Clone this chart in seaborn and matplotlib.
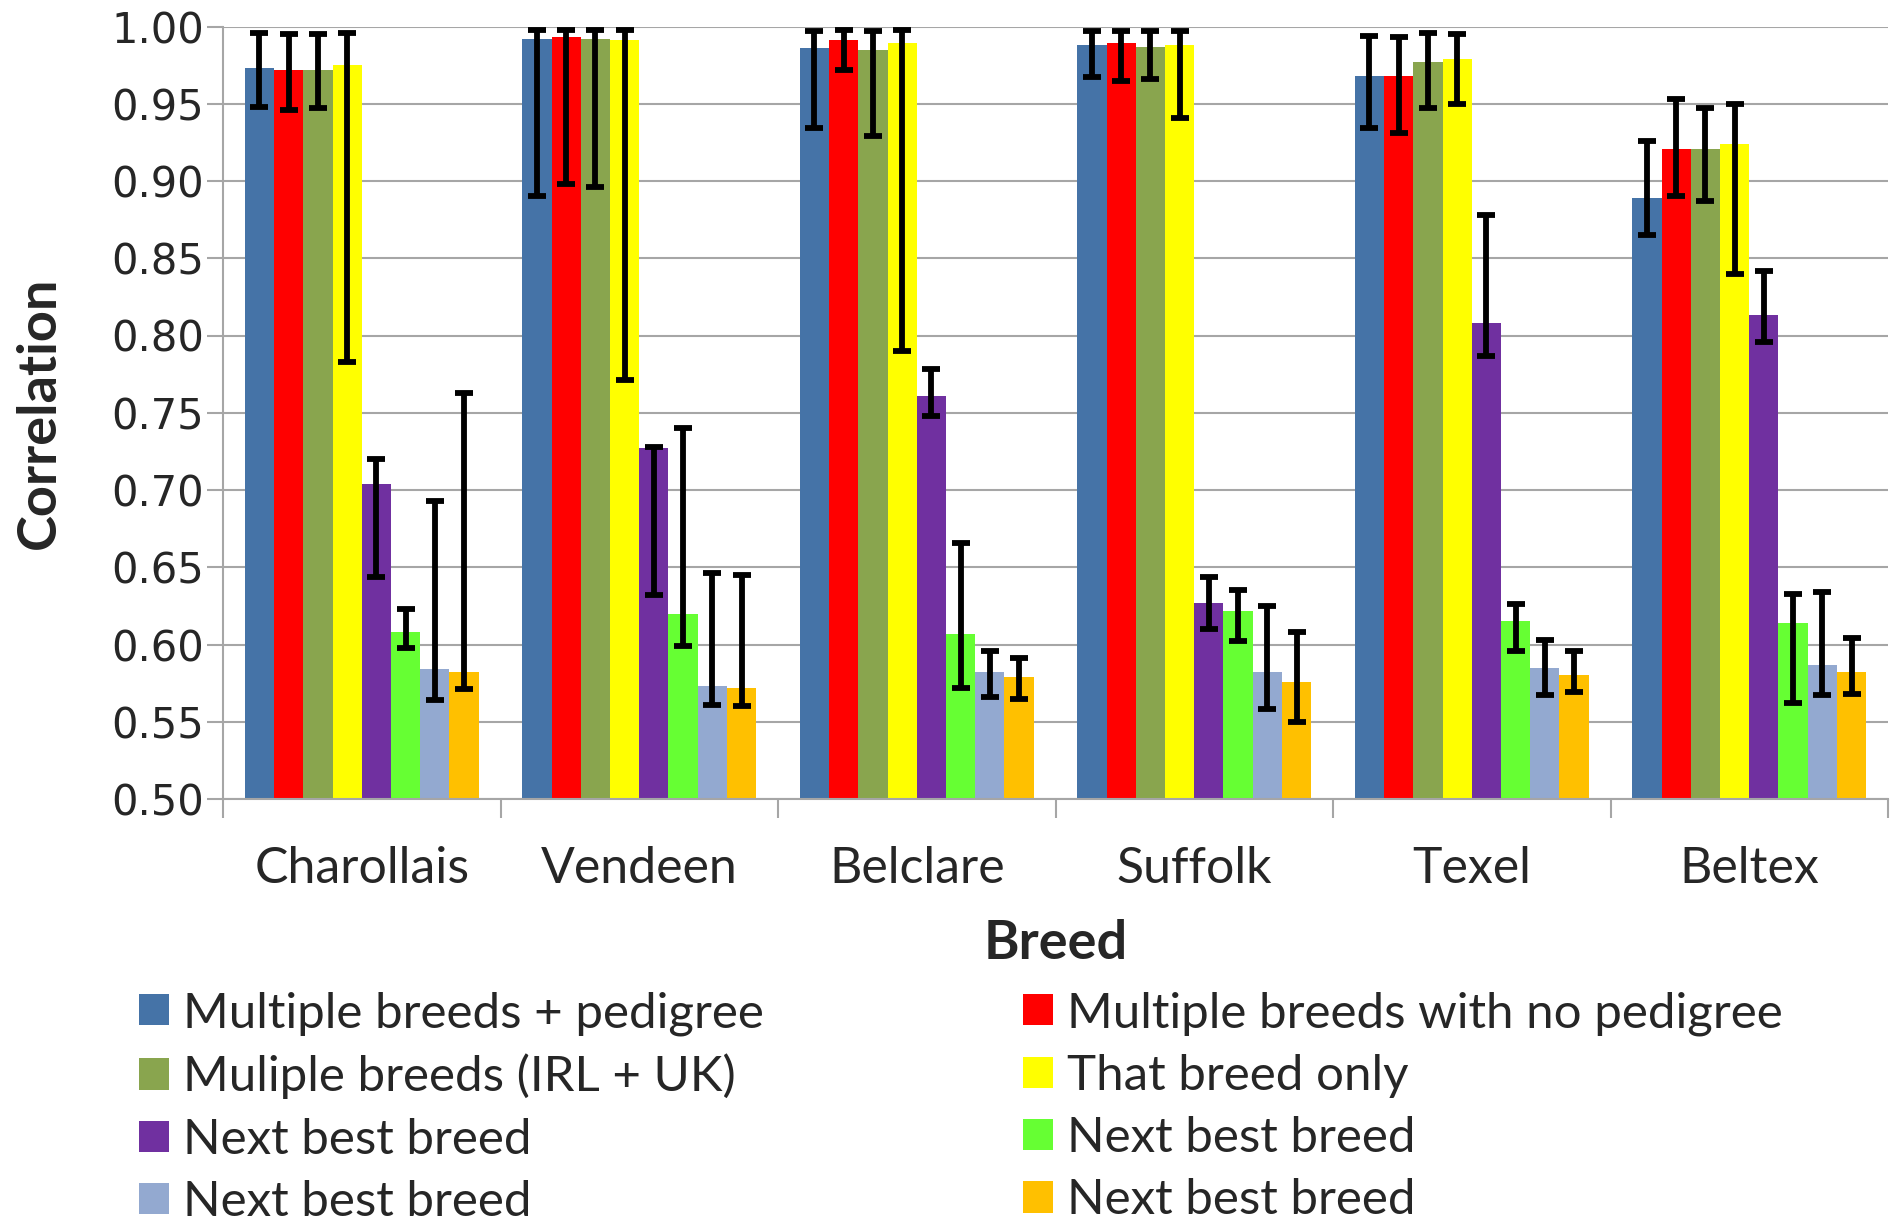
import numpy as np
import pandas as pd
import matplotlib
matplotlib.use("Agg")
import matplotlib.pyplot as plt
from matplotlib.patches import Patch
from matplotlib.ticker import FixedLocator
import seaborn as sns

# ---------------- data ----------------
breeds = ["Charollais", "Vendeen", "Belclare", "Suffolk", "Texel", "Beltex"]
series_keys = ["mb_ped", "mb_noped", "mb_irluk", "that_breed", "nb1", "nb2", "nb3", "nb4"]
legend_labels = ["Multiple breeds + pedigree", "Multiple breeds with no pedigree",
                 "Muliple breeds (IRL + UK)", "That breed only",
                 "Next best breed", "Next best breed",
                 "Next best breed", "Next best breed"]

mb_ped      = [0.973, 0.992, 0.986, 0.988, 0.968, 0.889]
mb_ped_lo   = [0.948, 0.890, 0.934, 0.967, 0.934, 0.865]
mb_ped_hi   = [0.996, 0.998, 0.997, 0.997, 0.994, 0.926]

mb_noped    = [0.972, 0.993, 0.991, 0.989, 0.968, 0.921]
mb_noped_lo = [0.946, 0.898, 0.972, 0.965, 0.931, 0.890]
mb_noped_hi = [0.995, 0.998, 0.998, 0.997, 0.993, 0.953]

mb_irluk    = [0.972, 0.992, 0.985, 0.987, 0.977, 0.921]
mb_irluk_lo = [0.947, 0.896, 0.929, 0.966, 0.947, 0.887]
mb_irluk_hi = [0.995, 0.998, 0.997, 0.997, 0.996, 0.947]

that_breed    = [0.975, 0.991, 0.989, 0.988, 0.979, 0.924]
that_breed_lo = [0.783, 0.771, 0.790, 0.941, 0.950, 0.840]
that_breed_hi = [0.996, 0.998, 0.998, 0.997, 0.995, 0.950]

nb1    = [0.704, 0.727, 0.761, 0.627, 0.808, 0.813]
nb1_lo = [0.644, 0.632, 0.748, 0.610, 0.787, 0.796]
nb1_hi = [0.720, 0.728, 0.778, 0.644, 0.878, 0.842]

nb2    = [0.608, 0.620, 0.607, 0.622, 0.615, 0.614]
nb2_lo = [0.598, 0.599, 0.572, 0.602, 0.596, 0.562]
nb2_hi = [0.623, 0.740, 0.666, 0.635, 0.626, 0.633]

nb3    = [0.584, 0.573, 0.582, 0.582, 0.585, 0.587]
nb3_lo = [0.564, 0.561, 0.566, 0.558, 0.567, 0.567]
nb3_hi = [0.693, 0.646, 0.596, 0.625, 0.603, 0.634]

nb4    = [0.582, 0.572, 0.579, 0.576, 0.580, 0.582]
nb4_lo = [0.571, 0.560, 0.565, 0.550, 0.569, 0.568]
nb4_hi = [0.763, 0.645, 0.591, 0.608, 0.596, 0.604]

values = [mb_ped, mb_noped, mb_irluk, that_breed, nb1, nb2, nb3, nb4]
lows = [mb_ped_lo, mb_noped_lo, mb_irluk_lo, that_breed_lo, nb1_lo, nb2_lo, nb3_lo, nb4_lo]
highs = [mb_ped_hi, mb_noped_hi, mb_irluk_hi, that_breed_hi, nb1_hi, nb2_hi, nb3_hi, nb4_hi]

colors = ["#4573A7", "#FF0000", "#89A54E", "#FFFF00",
          "#7030A0", "#66FF33", "#93A9D0", "#FFC000"]

yticks = [0.50, 0.55, 0.60, 0.65, 0.70, 0.75, 0.80, 0.85, 0.90, 0.95, 1.00]

# ---------------- frame ----------------
rows = []
for key, vals in zip(series_keys, values):
    for b, v in zip(breeds, vals):
        rows.append({"breed": b, "series": key, "value": v})
df = pd.DataFrame(rows)

sns.set_theme(style="white")
plt.rcParams["font.family"] = ["Lato", "DejaVu Sans"]

fig = plt.figure(figsize=(18.92, 12.30), dpi=100)
ax = fig.add_axes([223 / 1892, 1 - 799 / 1230, (1888 - 223) / 1892, (799 - 26.5) / 1230])

sns.barplot(data=df, x="breed", y="value", hue="series", order=breeds,
            hue_order=series_keys, palette=colors, errorbar=None,
            width=0.843, gap=0, linewidth=0, saturation=1, ax=ax, legend=False,
            zorder=2)

# error bars at the centres of the drawn bars
for cont, vals, lo, hi in zip(ax.containers, values, lows, highs):
    xs = [p.get_x() + p.get_width() / 2 for p in cont]
    v = np.array(vals)
    yerr = np.vstack([v - np.array(lo), np.array(hi) - v])
    ax.errorbar(xs, v, yerr=yerr, fmt="none", ecolor="black", elinewidth=4.2,
                capsize=6.5, capthick=4.2, zorder=5)

ax.set_ylim(0.5, 1.0)
ax.set_xlim(-0.5, len(breeds) - 0.5)
ax.set_yticks(yticks)
ax.set_yticklabels([f"{t:.2f}" for t in yticks], fontfamily="DejaVu Sans", fontsize=30)
ax.yaxis.grid(True, color="#A6A6A6", linewidth=1.5, zorder=0)
ax.xaxis.grid(False)
ax.set_axisbelow(True)

for s in ["top", "right"]:
    ax.spines[s].set_visible(False)
for s in ["left", "bottom"]:
    ax.spines[s].set_color("#A6A6A6")
    ax.spines[s].set_linewidth(1.5)
    ax.spines[s].set_zorder(3)

ax.tick_params(axis="y", which="major", direction="out", length=11.5, width=1.5,
               color="#A6A6A6", pad=2, left=True)
ax.xaxis.set_minor_locator(FixedLocator(np.arange(-0.5, len(breeds), 1.0)))
ax.tick_params(axis="x", which="major", length=0, pad=34, labelsize=36)
ax.tick_params(axis="x", which="minor", direction="out", length=14, width=1.5,
               color="#A6A6A6", bottom=True)

ax.set_ylabel("Correlation", fontsize=39, fontweight="bold", va="center")
ax.yaxis.set_label_coords(-0.1105, 0.5)
ax.set_xlabel("Breed", fontsize=39, fontweight="bold", va="center")
ax.xaxis.set_label_coords(0.5, -0.1877)

# legend: two columns placed independently
def col_legend(idx, x_px):
    handles = [Patch(facecolor=colors[i], edgecolor="none") for i in idx]
    labels = [legend_labels[i] for i in idx]
    leg = fig.legend(handles, labels, loc="upper left",
                     bbox_to_anchor=(x_px / 1892, 1 - 991 / 1230),
                     frameon=False, fontsize=35.5, handlelength=0.6,
                     handleheight=0.6, handletextpad=0.3, labelspacing=0.37,
                     borderaxespad=0, borderpad=0)
    return leg

col_legend([0, 2, 4, 6], 139)
col_legend([1, 3, 5, 7], 1023)

fig.savefig("out.png", dpi=100)
